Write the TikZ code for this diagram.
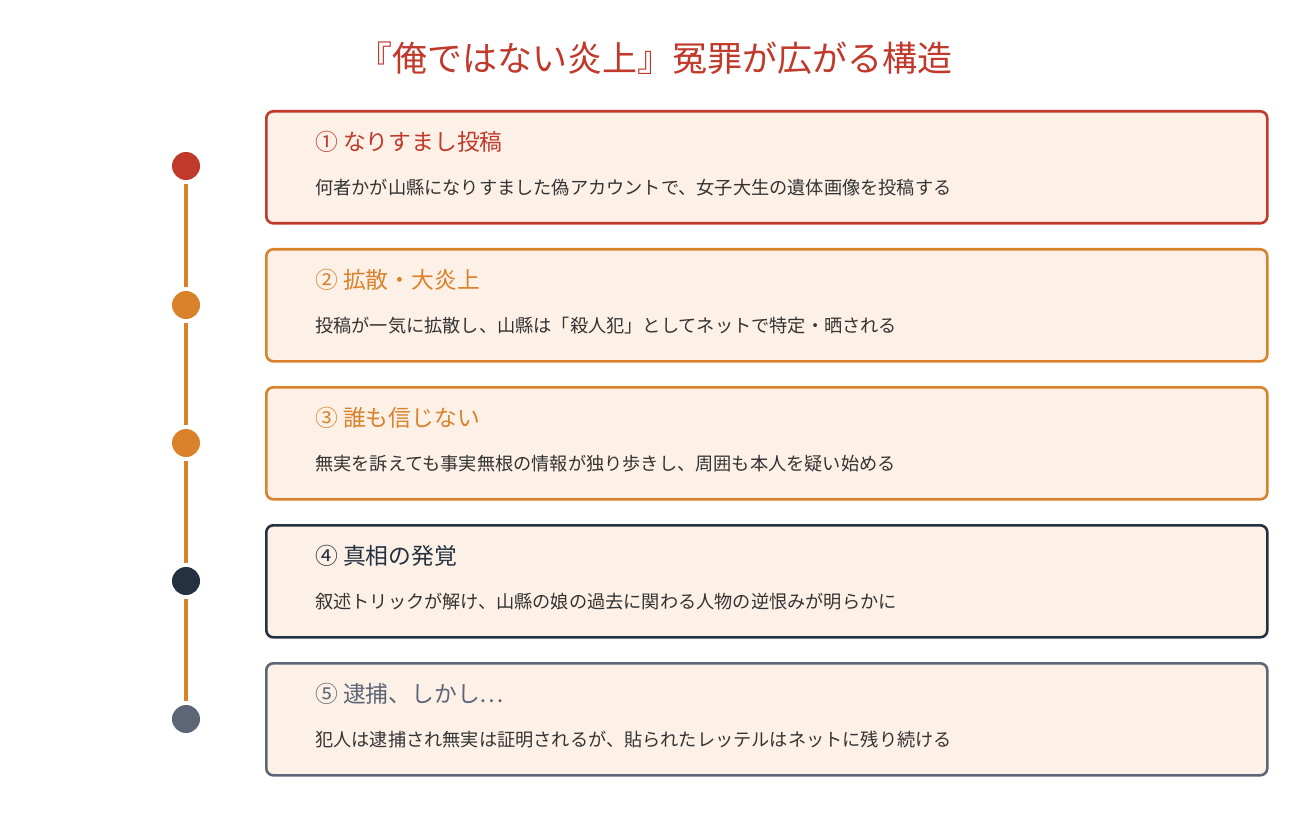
\documentclass[tikz,border=0pt]{standalone}
\usepackage{fontspec}
\setmainfont{Noto Sans CJK JP}
\definecolor{cred}{HTML}{C0392B}
\definecolor{corange}{HTML}{D9822B}
\definecolor{cnavy}{HTML}{243140}
\definecolor{cgray}{HTML}{5D6677}
\definecolor{cfill}{HTML}{FDF0E7}
\definecolor{ctext}{HTML}{333333}
\tikzset{
  card/.style={draw=#1, line width=2.6pt, fill=cfill, rounded corners=7pt, minimum width=1001pt, minimum height=112pt, anchor=north west, inner sep=0pt},
  dot/.style={circle, fill=#1, minimum size=28pt, inner sep=0pt},
  head/.style={anchor=west, inner sep=0pt, text=#1, font=\fontsize{22.8}{26}\selectfont},
  body/.style={anchor=west, inner sep=0pt, text=ctext, font=\fontsize{18.2}{21}\selectfont},
  link/.style={draw=corange, line width=3.5pt}
}
\begin{document}
\begin{tikzpicture}[x=1pt,y=-1pt]
\useasboundingbox (0,0) rectangle (1312,837);
\node[text=cred, font=\fontsize{35}{40}\selectfont, inner sep=0pt] (title) at (655,58) {『俺ではない炎上』冤罪が広がる構造};

\node[card=cred] (c1) at (265,110) {};
\node[card=corange] (c2) at (265,248) {};
\node[card=corange] (c3) at (265,386) {};
\node[card=cnavy] (c4) at (265,524) {};
\node[card=cgray] (c5) at (265,662) {};

\node[head=cred] (h1) at (315,142) {① なりすまし投稿};
\node[body] (b1) at (315,188) {何者かが山縣になりすました偽アカウントで、女子大生の遺体画像を投稿する};
\node[head=corange] (h2) at (315,280) {② 拡散・大炎上};
\node[body] (b2) at (315,326) {投稿が一気に拡散し、山縣は「殺人犯」としてネットで特定・晒される};
\node[head=corange] (h3) at (315,418) {③ 誰も信じない};
\node[body] (b3) at (315,464) {無実を訴えても事実無根の情報が独り歩きし、周囲も本人を疑い始める};
\node[head=cnavy] (h4) at (315,556) {④ 真相の発覚};
\node[body] (b4) at (315,602) {叙述トリックが解け、山縣の娘の過去に関わる人物の逆恨みが明らかに};
\node[head=cgray] (h5) at (315,694) {⑤ 逮捕、しかし…};
\node[body] (b5) at (315,740) {犯人は逮捕され無実は証明されるが、貼られたレッテルはネットに残り続ける};

\node[dot=cred] (d1) at (186,166) {};
\node[dot=corange] (d2) at (186,305) {};
\node[dot=corange] (d3) at (186,443) {};
\node[dot=cnavy] (d4) at (186,581) {};
\node[dot=cgray] (d5) at (186,719) {};

\draw[link] ([yshift=-4pt]d1.south) -- ([yshift=4pt]d2.north);
\draw[link] ([yshift=-4pt]d2.south) -- ([yshift=4pt]d3.north);
\draw[link] ([yshift=-4pt]d3.south) -- ([yshift=4pt]d4.north);
\draw[link] ([yshift=-4pt]d4.south) -- ([yshift=4pt]d5.north);
\end{tikzpicture}
\end{document}
